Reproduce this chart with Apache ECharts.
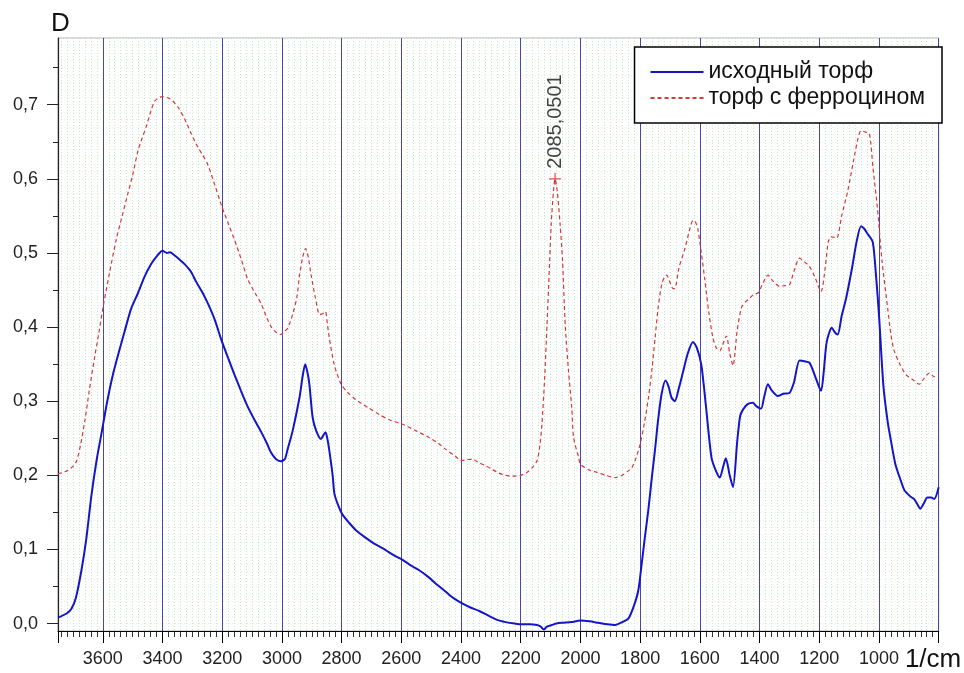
<!DOCTYPE html>
<html>
<head>
<meta charset="utf-8">
<script src="https://cdn.jsdelivr.net/npm/echarts@6/dist/echarts.min.js"></script>
<style>html,body{margin:0;padding:0;background:#fff}#c{width:964px;height:673px}</style>
</head>
<body>
<div id="c"></div>
<script>
// ---- data (wavenumber, 1/cm  ->  absorbance D) ----
const blueName = 'исходный торф';
const redName = 'торф с ферроцином';
const blueWn = [3750,3720,3705,3690,3671,3655,3638,3620,3605,3585,3566,3545,3527,3505,3482,3460,3438,3420,3400,3385,3375,3360,3345,3326,3305,3287,3268,3248,3225,3204,3180,3159,3137,3115,3092,3070,3050,3037,3020,3004,2990,2981,2964,2941,2930,2922,2915,2908,2897,2885,2869,2860,2854,2848,2841,2830,2824,2810,2797,2775,2752,2720,2691,2660,2641,2620,2596,2570,2540,2510,2485,2460,2440,2420,2399,2370,2339,2310,2279,2250,2220,2199,2170,2145,2133,2123,2112,2096,2080,2062,2030,2000,1970,1940,1910,1884,1860,1839,1820,1806,1795,1784,1772,1762,1750,1740,1728,1715,1705,1695,1684,1670,1656,1640,1623,1610,1595,1580,1561,1545,1533,1523,1513,1500,1489,1475,1465,1455,1440,1422,1410,1395,1385,1372,1360,1339,1320,1300,1285,1266,1250,1233,1215,1194,1185,1175,1158,1148,1138,1125,1110,1090,1075,1060,1050,1040,1021,1010,1000,985,970,960,945,927,915,904,890,882,870,862,850,838,825,815,800];
const blueAbs = [0.008,0.014,0.020,0.035,0.073,0.115,0.173,0.222,0.255,0.300,0.336,0.368,0.394,0.425,0.446,0.468,0.485,0.495,0.503,0.500,0.501,0.497,0.492,0.485,0.475,0.461,0.448,0.432,0.410,0.384,0.358,0.336,0.314,0.293,0.275,0.259,0.243,0.231,0.222,0.219,0.222,0.235,0.260,0.305,0.335,0.350,0.340,0.323,0.278,0.260,0.249,0.255,0.258,0.250,0.233,0.200,0.175,0.158,0.147,0.136,0.126,0.116,0.108,0.101,0.096,0.091,0.086,0.079,0.072,0.063,0.054,0.046,0.039,0.033,0.028,0.022,0.017,0.011,0.005,0.002,0.000,-0.001,-0.001,-0.002,-0.004,-0.008,-0.004,-0.002,0.000,0.001,0.002,0.004,0.003,0.001,-0.001,-0.002,0.002,0.007,0.025,0.045,0.080,0.117,0.155,0.193,0.235,0.274,0.310,0.328,0.320,0.305,0.300,0.318,0.340,0.365,0.380,0.372,0.349,0.295,0.224,0.205,0.197,0.210,0.223,0.200,0.184,0.245,0.280,0.289,0.296,0.298,0.293,0.290,0.305,0.323,0.315,0.307,0.310,0.311,0.325,0.355,0.354,0.352,0.335,0.314,0.340,0.380,0.399,0.393,0.390,0.415,0.439,0.480,0.515,0.536,0.533,0.527,0.515,0.470,0.417,0.320,0.270,0.247,0.215,0.193,0.180,0.175,0.170,0.168,0.160,0.155,0.162,0.170,0.170,0.168,0.184];
const redWn = [3750,3720,3700,3688,3675,3660,3645,3627,3612,3599,3578,3555,3535,3516,3500,3482,3468,3454,3440,3426,3410,3399,3380,3365,3345,3326,3305,3282,3265,3248,3225,3204,3180,3159,3135,3115,3090,3070,3050,3037,3020,3004,2990,2981,2964,2950,2941,2930,2921,2912,2902,2888,2874,2864,2854,2848,2841,2825,2802,2780,2752,2710,2674,2640,2596,2550,2507,2475,2451,2420,2399,2380,2363,2340,2318,2295,2273,2250,2229,2200,2179,2160,2145,2136,2129,2120,2112,2105,2098,2090,2085,2078,2068,2060,2051,2040,2029,2023,2006,2000,1970,1944,1915,1884,1860,1840,1828,1815,1800,1786,1772,1760,1750,1740,1728,1718,1711,1700,1690,1684,1670,1650,1635,1623,1615,1607,1595,1584,1570,1556,1545,1533,1522,1511,1500,1489,1475,1461,1447,1433,1420,1405,1390,1372,1355,1333,1315,1300,1285,1266,1250,1233,1215,1194,1180,1170,1161,1150,1141,1125,1105,1085,1070,1060,1045,1032,1020,1005,990,971,960,949,930,910,890,865,850,832,815,800];
const redAbs = [0.202,0.206,0.212,0.219,0.240,0.274,0.315,0.360,0.395,0.427,0.472,0.518,0.550,0.580,0.605,0.638,0.655,0.671,0.690,0.705,0.710,0.711,0.709,0.705,0.695,0.681,0.662,0.643,0.632,0.619,0.592,0.566,0.540,0.518,0.490,0.465,0.446,0.432,0.412,0.401,0.393,0.390,0.395,0.398,0.417,0.440,0.470,0.495,0.506,0.495,0.470,0.440,0.417,0.418,0.421,0.405,0.385,0.350,0.323,0.312,0.302,0.291,0.282,0.275,0.269,0.260,0.251,0.243,0.235,0.226,0.220,0.221,0.222,0.217,0.213,0.208,0.203,0.200,0.199,0.200,0.204,0.211,0.220,0.240,0.269,0.330,0.403,0.470,0.538,0.585,0.600,0.585,0.538,0.490,0.403,0.341,0.291,0.251,0.224,0.215,0.207,0.204,0.200,0.197,0.200,0.206,0.210,0.222,0.242,0.270,0.305,0.345,0.385,0.425,0.457,0.468,0.470,0.460,0.452,0.452,0.480,0.506,0.530,0.544,0.542,0.533,0.500,0.466,0.420,0.385,0.372,0.368,0.378,0.388,0.365,0.348,0.395,0.426,0.434,0.439,0.444,0.446,0.458,0.470,0.462,0.455,0.456,0.457,0.475,0.493,0.488,0.482,0.468,0.448,0.480,0.515,0.522,0.521,0.520,0.550,0.583,0.625,0.655,0.665,0.663,0.661,0.615,0.560,0.490,0.426,0.390,0.368,0.350,0.336,0.330,0.323,0.330,0.338,0.333,0.336];
const peakWn = [2085];
const peakAbs = [0.6];
const peakLabel = ['2085,0501'];
const xTickValues = [1000,1200,1400,1600,1800,2000,2200,2400,2600,2800,3000,3200,3400,3600];
const yTickValues = [0,0.1,0.2,0.3,0.4,0.5,0.6,0.7];
const yTickLabels = ['0,0','0,1','0,2','0,3','0,4','0,5','0,6','0,7'];
const yMinorTickValues = [0.05,0.15,0.25,0.35,0.45,0.55,0.65,0.75];

const FONT = 'Liberation Sans, Arial, sans-serif';
const X_MIN = 800, X_MAX = 3750, Y_MIN = -0.01, Y_MAX = 0.79;

const zip = (a, b) => a.map((v, i) => [v, b[i]]);

const chart = echarts.init(document.getElementById('c'), null, {renderer: 'canvas'});
chart.setOption({
  animation: false,
  backgroundColor: '#fff',
  grid: {left: 58, right: 22, top: 38, bottom: 39, show: true, borderColor: '#b0b0b0', borderWidth: 1, backgroundColor: '#fff'},
  legend: {
    data: [blueName, redName], orient: 'vertical', right: 22, top: 47,
    padding: [13, 17, 13, 15], itemWidth: 53, itemHeight: 14, itemGap: 2,
    backgroundColor: '#fff', borderColor: '#000', borderWidth: 1.5, borderRadius: 0,
    itemStyle: {color: 'rgba(0,0,0,0)', borderColor: 'rgba(0,0,0,0)', borderWidth: 0},
    textStyle: {fontFamily: FONT, fontSize: 23, lineHeight: 24, color: '#111'}
  },
  xAxis: [
    {
      type: 'value', min: X_MIN, max: X_MAX, inverse: true, interval: 200, position: 'bottom', z: 1,
      axisLine: {show: true, onZero: false, lineStyle: {color: '#000', width: 1.2}},
      axisTick: {show: true, length: 12, lineStyle: {color: '#000', width: 1}},
      axisLabel: {margin: 19, fontFamily: FONT, fontSize: 18, color: '#222',
        formatter: v => xTickValues.indexOf(v) >= 0 ? String(v) : ''},
      splitLine: {show: true, lineStyle: {color: '#4646ac', width: 1}},
      name: '1/cm', nameLocation: 'start', nameGap: -37,
      nameTextStyle: {fontFamily: FONT, fontSize: 26, color: '#111', verticalAlign: 'top', padding: [16, 0, 0, 0]}
    },
    {
      type: 'value', min: X_MIN, max: X_MAX, inverse: true, interval: 20, position: 'bottom', z: 0,
      axisLine: {show: false, onZero: false},
      axisTick: {show: true, length: 6, lineStyle: {color: '#333', width: 1}},
      axisLabel: {show: false},
      splitLine: {show: true, lineStyle: {color: '#c2e7c9', width: 1, type: [1, 2]}}
    }
  ],
  yAxis: [
    {
      type: 'value', min: Y_MIN, max: Y_MAX, position: 'left', z: 1,
      axisLine: {show: true, onZero: false, lineStyle: {color: '#222', width: 1.2}},
      axisTick: {show: true, length: 11, customValues: yTickValues, lineStyle: {color: '#222'}},
      axisLabel: {show: true, margin: 20, customValues: yTickValues, fontFamily: FONT, fontSize: 18, color: '#222',
        formatter: v => { const i = yTickValues.findIndex(t => Math.abs(t - v) < 1e-9); return i >= 0 ? yTickLabels[i] : ''; }},
      splitLine: {show: false},
      name: 'D', nameLocation: 'end', nameGap: 1,
      nameTextStyle: {fontFamily: FONT, fontSize: 26, color: '#111', align: 'left', padding: [0, 0, 0, -7]}
    },
    {
      type: 'value', min: Y_MIN, max: Y_MAX, position: 'left', z: 0,
      axisLine: {show: false, onZero: false},
      axisTick: {show: true, length: 5, customValues: yMinorTickValues, lineStyle: {color: '#222'}},
      axisLabel: {show: false},
      splitLine: {show: false}
    },
    {
      type: 'value', min: Y_MIN, max: Y_MAX, interval: 0.01, position: 'left', z: 0,
      axisLine: {show: false, onZero: false}, axisTick: {show: false}, axisLabel: {show: false},
      splitLine: {show: true, lineStyle: {color: '#e6f4e8', width: 1, type: [1, 2]}}
    }
  ],
  series: [
    {
      name: blueName, type: 'line', xAxisIndex: 0, yAxisIndex: 0, data: zip(blueWn, blueAbs),
      symbol: 'none', smooth: 0.25, z: 4,
      lineStyle: {color: '#1515c8', width: 2}, itemStyle: {color: '#1515c8'}
    },
    {
      name: redName, type: 'line', xAxisIndex: 0, yAxisIndex: 0, data: zip(redWn, redAbs),
      symbol: 'none', smooth: 0.25, z: 3,
      lineStyle: {color: '#d83838', width: 1.2, type: [4, 3]}, itemStyle: {color: '#d83838'}
    },
    {
      name: 'peak', type: 'scatter', xAxisIndex: 0, yAxisIndex: 0, z: 5,
      data: peakWn.map((w, i) => ({value: [w, peakAbs[i]], label: {formatter: peakLabel[i]}})),
      symbol: 'path://M0,4.5h10v1h-10z M4.5,0h1v10h-1z', symbolSize: 12,
      itemStyle: {color: '#d82020'},
      label: {show: true, position: 'top', rotate: 90, distance: 4, align: 'left', verticalAlign: 'middle',
        fontFamily: FONT, fontSize: 20, color: '#111'}
    }
  ]
});
</script>
</body>
</html>
